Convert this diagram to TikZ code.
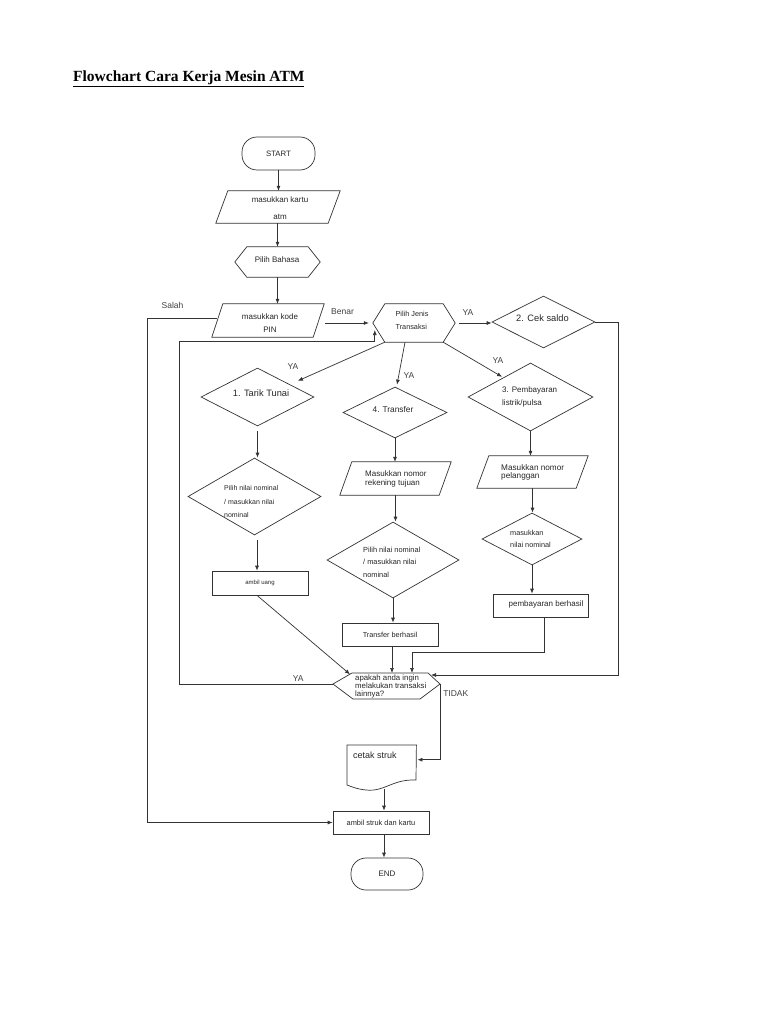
\documentclass[tikz,border=0pt]{standalone}
\usepackage{fontspec}
\setmainfont{Liberation Serif}
\newfontfamily\arialf{Liberation Sans}
\usetikzlibrary{shapes.geometric,arrows.meta,calc}
\tikzset{
  shp/.style={draw=black!80, line width=0.7pt, inner sep=0pt},
  term/.style={shp, rectangle, rounded corners=15pt},
  proc/.style={shp, rectangle},
  dec/.style={shp, diamond},
  ghost/.style={rectangle, inner sep=0pt},
  tx/.style 2 args={font=\arialf\fontsize{#1}{#2}\selectfont, inner sep=0pt, text=black!85},
  lbl/.style={font=\arialf\fontsize{8.5}{10}\selectfont, text=black!75, inner sep=0pt},
  arr/.style={draw=black!80, line width=0.7pt, -{Latex[length=5pt,width=4pt]}},
}
\newcommand\drawhex[2]{\draw[shp] (#1.west) -- ($(#1.north west)+(#2,0)$) -- ($(#1.north east)+(-#2,0)$) -- (#1.east) -- ($(#1.south east)+(-#2,0)$) -- ($(#1.south west)+(#2,0)$) -- cycle;}
\newcommand\drawpara[2]{\draw[shp] (#1.south west) -- ($(#1.north west)+(#2,0)$) -- (#1.north east) -- ($(#1.south east)+(-#2,0)$) -- cycle;}
\begin{document}
\begin{tikzpicture}[x=1pt,y=-1pt]
\fill[white] (0,0) rectangle (768,1024);
\useasboundingbox (0,0) rectangle (768,1024);

% title
\node[anchor=base west, inner sep=0pt, font=\fontsize{15.5}{18}\selectfont\bfseries, text=black] (title) at (73,82) {\underline{Flowchart Cara Kerja Mesin ATM}};

% main column
\node[term, tx={7.8}{9}, minimum width=73, minimum height=33] (start) at (278.5,153.5) {START};
\node[ghost, minimum width=124, minimum height=32] (kartu) at (278,207) {};
\drawpara{kartu}{12}
\node[tx={8}{9.6}, align=center] (kartuT) at (280,208) {masukkan kartu\\[8pt]atm};
\node[ghost, minimum width=85, minimum height=30] (bahasa) at (277.5,262) {};
\drawhex{bahasa}{12}
\node[tx={8}{9.6}] (bahasaT) at (277,259.5) {Pilih Bahasa};
\node[ghost, minimum width=112, minimum height=33] (pin) at (268,320.5) {};
\drawpara{pin}{11}
\node[tx={8}{9.6}, align=center] (pinT) at (270,323) {masukkan kode\\[3.5pt]PIN};

% transaction choice
\node[ghost, minimum width=82, minimum height=38] (pjt) at (414,323) {};
\drawhex{pjt}{12}
\node[tx={7.3}{8.8}, align=left] (pjtT) at (412,320.5) {Pilih Jenis\\[4pt]Transaksi};
\node[dec, minimum width=103, minimum height=52] (saldo) at (543.5,322) {};
\node[tx={9.3}{11}] (saldoT) at (542.5,318) {2. Cek saldo};

% branch 1
\node[dec, minimum width=113, minimum height=58] (tarik) at (257.5,397) {};
\node[tx={9.3}{11}] (tarikT) at (261,393.5) {1. Tarik Tunai};
\node[dec, minimum width=133, minimum height=77] (nom1) at (254.5,496.5) {};
\node[tx={7}{8.4}, align=left, anchor=west] (nom1T) at (224,501.5) {Pilih nilai nominal\\[5pt]/ masukkan nilai\\[5pt]nominal};
\node[proc, tx={6}{7}, minimum width=96, minimum height=24] (uang) at (260,583) {ambil uang};

% branch 4
\node[dec, minimum width=104, minimum height=51] (transfer) at (395,412.5) {};
\node[tx={8.3}{10}] (transferT) at (393,410) {4. Transfer};
\node[ghost, minimum width=111, minimum height=33] (rek) at (395.5,478.5) {};
\drawpara{rek}{12}
\node[tx={8}{8.3}, align=left, anchor=west] (rekT) at (365,479) {Masukkan nomor\\rekening tujuan};
\node[dec, minimum width=132, minimum height=76] (nom2) at (393,560) {};
\node[tx={7.4}{8.9}, align=left, anchor=west] (nom2T) at (363,562) {Pilih nilai nominal\\[3.5pt]/ masukkan nilai\\[3.5pt]nominal};
\node[proc, tx={7.3}{8.8}, minimum width=96, minimum height=23] (tb) at (390,634.5) {Transfer berhasil};

% branch 3
\node[dec, minimum width=125, minimum height=68] (pemb) at (530.5,397) {};
\node[tx={8}{9.6}, align=left, anchor=west] (pembT) at (502,396.7) {3. Pembayaran\\[3.7pt]listrik/pulsa};
\node[ghost, minimum width=111, minimum height=32] (pel) at (532.5,472) {};
\drawpara{pel}{12}
\node[tx={8.2}{8.4}, align=left, anchor=west] (pelT) at (501,472.5) {Masukkan nomor\\pelanggan};
\node[dec, minimum width=100, minimum height=52] (nn) at (532,539) {};
\node[tx={7.3}{8.8}, align=left, anchor=west] (nnT) at (510,539) {masukkan\\[3.5pt]nilai nominal};
\node[proc, minimum width=95, minimum height=23] (pb) at (540.5,605.5) {};
\node[tx={8}{9.6}] (pbT) at (546,604) {pembayaran berhasil};

% question
\coordinate (apkW) at (333,684);
\coordinate (apkUL) at (352,673);
\coordinate (apkUR) at (428,673);
\coordinate (apkE) at (440,684);
\coordinate (apkLR) at (420,699);
\coordinate (apkLL) at (353,699);
\draw[shp] (apkW) -- (apkUL) -- (apkUR) -- (apkE) -- (apkLR) -- (apkLL) -- cycle;
\node[tx={7.8}{8.3}, align=left, anchor=west] (apkT) at (355,686.5) {apakah anda ingin\\melakukan transaksi\\lainnya?};
\coordinate (apkIn1) at (350,674.3);
\coordinate (apkIn2) at (392,673);
\coordinate (apkIn3) at (412,673);
\coordinate (apkIn4) at (431,675);

% document
\node[ghost, minimum width=69, minimum height=45, anchor=north west] (doc) at (347,745) {};
\draw[shp] (doc.north west) -- (doc.north east) -- (416,780) .. controls (392,779) and (385,792) .. (366,790) .. controls (356,789) and (350,786) .. (347,785) -- cycle;
\node[tx={9}{10.8}, anchor=west] (docT) at (353,755) {cetak struk};
\coordinate (docB) at (384,789);

\node[proc, tx={7.4}{8.9}, minimum width=96, minimum height=23] (as) at (381,822.5) {ambil struk dan kartu};
\node[term, tx={8}{9.6}, minimum width=72, minimum height=32] (fin) at (387,874) {END};

% connectors
\draw[arr] (start.south) -- (start.south |- kartu.north);
\draw[arr] (kartu.south -| bahasa.north) -- (bahasa.north);
\draw[arr] (bahasa.south) -- (bahasa.south |- pin.north);
\draw[arr] ($(pin.east |- pjt.west)+(1,0)$) -- ($(pjt.west)+(-4,0)$);
\draw[arr] ($(pjt.east)+(4,0)$) -- (saldo.west |- pjt.east);
\draw[arr] (saldo.east) -- ++(23,0) |- (apkIn4);
\draw[arr] ($(pjt.south west)+(12,0)$) -- ($(tarik.north east)+(12,-1.5)$);
\draw[arr] ($(pjt.south)+(-9,0)$) -- ($(transfer.north)+(2,-2)$);
\draw[arr] ($(pjt.south east)+(-12,0)$) -- ($(pemb.north west)+(3,-3)$);

\draw[arr, shorten <=5pt] (tarik.south) -- (tarik.south |- nom1.north);
\draw[arr, shorten <=5pt] ($(nom1.south)+(2.5,0)$) -- ($(uang.north)+(-3,0)$);
\draw[arr] ($(uang.south)+(-3,0)$) -- (apkIn1);

\draw[arr] (transfer.south) -- (transfer.south |- rek.north);
\draw[arr] (rek.south) -- (rek.south |- nom2.north);
\draw[arr] (nom2.south) -- (nom2.south |- tb.north);
\draw[arr] (tb.south -| apkIn2) -- (apkIn2);

\draw[arr] (pemb.south) -- (pemb.south |- pel.north);
\draw[arr] (pel.south) -- (pel.south |- nn.north);
\draw[arr] (nn.south) -- (nn.south |- pb.north);
\draw[arr] ($(pb.south)+(4,0)$) -- ++(0,35) -| (apkIn3);

\draw[arr] (apkW) -| ($(pjt.west)+(-193,18)$) -| ($(pjt.west)+(2,7)$);
\draw[arr] (apkE) |- ($(doc.east)+(1,-8)$);
\draw[arr] (docB) -- (docB |- as.north);
\draw[arr] ($(pin.west)+(5,-2)$) -| ($(as.west)+(-185,0)$) -- (as.west);
\draw[arr] ($(as.south)+(3,0)$) -- ($(fin.north)+(-3,0)$);

% labels
\node[lbl] (lSalah) at (172.5,305) {Salah};
\node[lbl] (lBenar) at (342.5,311.7) {Benar};
\node[lbl] (lYa1) at (468,312.7) {YA};
\node[lbl] (lYa2) at (293,366.7) {YA};
\node[lbl] (lYa3) at (409,376) {YA};
\node[lbl] (lYa4) at (498,360.7) {YA};
\node[lbl] (lYa5) at (298.3,678.3) {YA};
\node[lbl] (lTidak) at (455.8,694) {TIDAK};
\end{tikzpicture}
\end{document}
